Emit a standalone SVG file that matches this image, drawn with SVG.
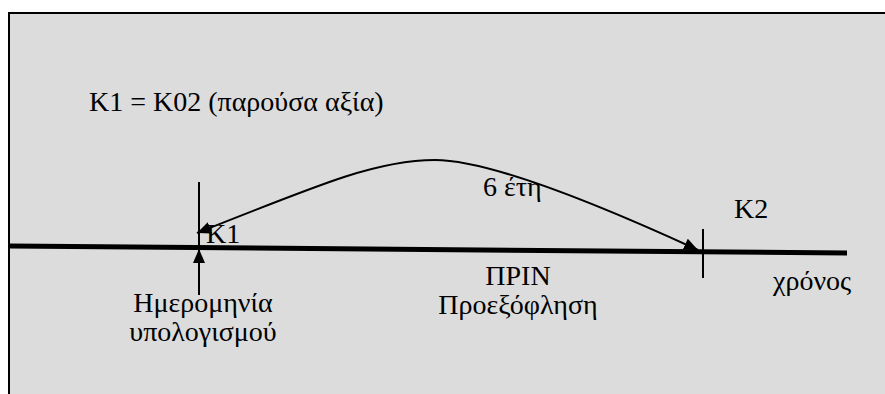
<svg xmlns="http://www.w3.org/2000/svg" width="885" height="394" viewBox="0 0 885 394">
  <defs>
    <marker id="tri" viewBox="0 0 14 12" refX="14" refY="6" markerWidth="14" markerHeight="12" orient="auto-start-reverse" markerUnits="userSpaceOnUse">
      <path d="M0,0 L14,6 L0,12 Z" fill="#000"/>
    </marker>
  </defs>
  <style>
    .lbl { font-family: "Liberation Serif", "Times New Roman", serif; font-size: 28px; fill: #000; }
    .mid { text-anchor: middle; }
    .thin { stroke: #000; stroke-width: 2; fill: none; }
  </style>
  <!-- panel -->
  <rect x="9" y="13" width="880" height="390" fill="#dcdcdc" stroke="#000" stroke-width="2"/>

  <g id="connectors">
    <!-- time axis -->
    <line x1="10" y1="246" x2="847" y2="253" stroke="#000" stroke-width="5"/>
    <!-- tick marks -->
    <line class="thin" x1="199" y1="182" x2="199" y2="246"/>
    <line class="thin" x1="703" y1="229" x2="703" y2="278"/>
    <!-- pointer to calculation date -->
    <line class="thin" x1="199" y1="295" x2="199" y2="249" marker-end="url(#tri)"/>
    <!-- discounting arc -->
    <path class="thin" d="M698,250 C600,205 490,160 435,160 C380,160 330,180 197,233" marker-start="url(#tri)" marker-end="url(#tri)"/>
  </g>

  <g id="title"><text class="lbl" x="89" y="111">K1 = K02 (παρούσα αξία)</text></g>
  <g id="years"><text class="lbl" x="483" y="196">6 έτη</text></g>
  <g id="k1"><text class="lbl" x="206" y="243">K1</text></g>
  <g id="k2"><text class="lbl" x="734" y="218">K2</text></g>
  <g id="before"><text class="lbl mid" x="518" y="285">ΠΡΙΝ</text><text class="lbl mid" x="518" y="314">Προεξόφληση</text></g>
  <g id="time"><text class="lbl" x="773" y="290">χρόνος</text></g>
  <g id="calcdate"><text class="lbl mid" x="203" y="312">Ημερομηνία</text><text class="lbl mid" x="203" y="341">υπολογισμού</text></g>
</svg>
